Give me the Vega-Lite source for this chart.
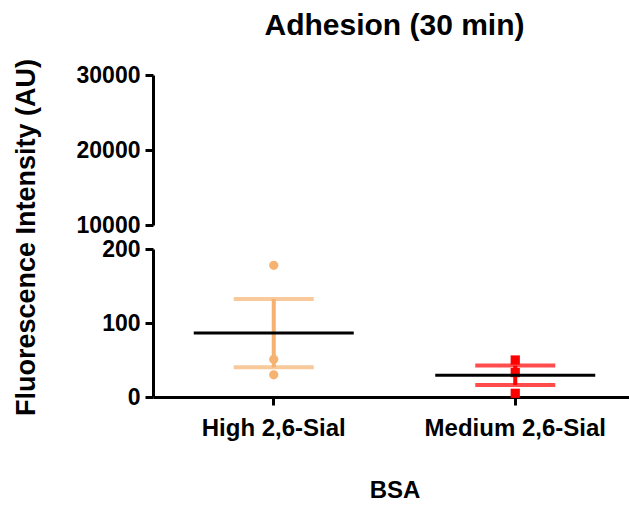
{
  "$schema": "https://vega.github.io/schema/vega-lite/v6.json",
  "background": "white",
  "padding": {"left": 12, "top": 11, "right": 0, "bottom": 0},
  "title": {"text": "Adhesion (30 min)", "fontSize": 30, "font": "Liberation Sans", "fontWeight": "bold", "anchor": "middle", "frame": "group", "offset": 17, "color": "black"},
  "data": {"values": [
    {"group": "High 2,6-Sial", "value": 178},
    {"group": "High 2,6-Sial", "value": 51},
    {"group": "High 2,6-Sial", "value": 30},
    {"group": "Medium 2,6-Sial", "value": 50},
    {"group": "Medium 2,6-Sial", "value": 33},
    {"group": "Medium 2,6-Sial", "value": 5}
  ]},
  "spacing": 24,
  "bounds": "flush",
  "config": {
    "view": {"stroke": null},
    "font": "Liberation Sans",
    "axis": {
      "grid": false,
      "domainColor": "black", "domainWidth": 3,
      "tickColor": "black", "tickWidth": 3, "tickSize": 8,
      "labelFont": "Liberation Sans", "labelFontSize": 23, "labelFontWeight": "bold", "labelColor": "black", "labelPadding": 5, "labelLimit": 400,
      "titleFont": "Liberation Sans", "titleFontWeight": "bold", "titleColor": "black"
    }
  },
  "vconcat": [
    {
      "width": 483, "height": 150,
      "transform": [{"filter": "datum.value > 10000"}],
      "mark": {"type": "point"},
      "encoding": {
        "y": {"field": "value", "type": "quantitative", "scale": {"domain": [10000, 30000], "nice": false, "zero": false},
              "axis": {"values": [10000, 20000, 30000], "format": "d", "title": null}}
      }
    },
    {
      "width": 483, "height": 148,
      "encoding": {
        "x": {"field": "group", "type": "nominal",
              "scale": {"domain": ["High 2,6-Sial", "Medium 2,6-Sial"], "paddingInner": 0, "paddingOuter": 0},
              "axis": {"labelAngle": 0, "labelFontSize": 24, "title": "BSA", "titleFontSize": 24, "titlePadding": 38, "labelPadding": 11}}
      },
      "layer": [
        {
          "mark": {"type": "point", "filled": true, "opacity": 1, "size": 85},
          "encoding": {
            "y": {"field": "value", "type": "quantitative", "scale": {"domain": [0, 200], "nice": false},
                  "title": "Fluorescence Intensity (AU)",
                  "axis": {"values": [0, 100, 200], "format": "d", "titleFontSize": 27, "titleY": -12, "titlePadding": 61}},
            "color": {"field": "group", "type": "nominal", "scale": {"domain": ["High 2,6-Sial", "Medium 2,6-Sial"], "range": ["#F5B271", "#FF0000"]}, "legend": null},
            "shape": {"field": "group", "type": "nominal", "scale": {"domain": ["High 2,6-Sial", "Medium 2,6-Sial"], "range": ["circle", "square"]}, "legend": null}
          }
        },
        {
          "mark": {"type": "errorbar", "extent": "stderr", "ticks": true, "size": 80, "thickness": 4},
          "encoding": {
            "y": {"field": "value", "type": "quantitative", "title": "Fluorescence Intensity (AU)"},
            "color": {"field": "group", "type": "nominal", "legend": null}
          }
        },
        {
          "mark": {"type": "tick", "size": 160, "thickness": 3, "color": "black"},
          "encoding": {
            "y": {"field": "value", "aggregate": "mean", "type": "quantitative", "title": "Fluorescence Intensity (AU)"}
          }
        }
      ]
    }
  ]
}
